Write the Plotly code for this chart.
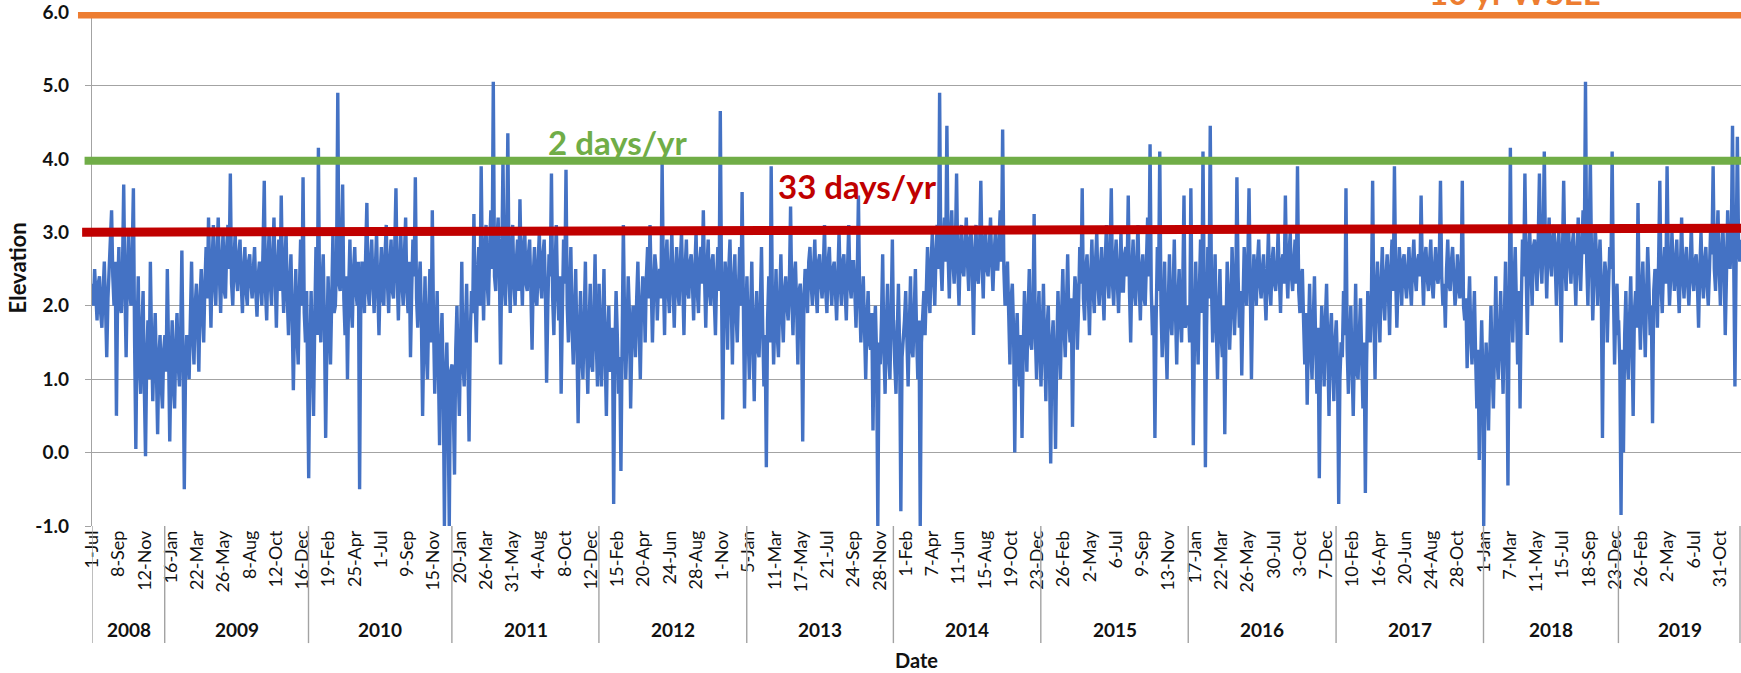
import numpy as np
import plotly.graph_objects as go

# ---------------- data ----------------
# Elevation, one value every `sample_step` categories (days), listed per year
sample_step = 3
y2008 = [2.3, 2.0, 2.5, 2.2, 1.8, 2.3, 2.4, 1.9, 1.7, 2.2, 2.6, 2.0, 1.3, 2.1, 2.5, 2.9, 3.3, 2.4, 2.0, 2.6,
         0.5, 2.2, 2.8, 2.0, 1.9, 2.5, 3.65, 2.2, 1.3, 2.4, 3.0, 2.2, 2.0, 2.7, 3.6, 1.5, 0.05, 1.6, 2.4, 1.2,
         0.8, 1.7, 2.2, 0.9, -0.05, 1.3, 1.8, 1.0, 2.6, 1.5, 0.7, 1.4, 1.9, 1.1, 0.25, 1.3, 1.6, 0.9, 0.6, 1.4]
y2009 = [1.6, 1.1, 2.5, 1.4, 0.15, 1.2, 1.8, 0.9, 0.6, 1.5, 1.9, 1.2, 0.9, 1.6, 2.75, 1.3, -0.5, 1.1, 1.6, 1.3,
         1.0, 1.8, 2.6, 1.6, 1.2, 2.0, 2.3, 1.7, 1.1, 2.1, 2.5, 1.9, 1.5, 2.3, 2.8, 2.1, 3.2, 2.4, 1.7, 2.6,
         3.1, 2.3, 2.0, 2.7, 3.2, 2.4, 1.9, 2.6, 3.0, 2.2, 2.1, 2.8, 3.1, 2.5, 3.8, 2.3, 2.0, 2.6, 3.0, 2.4,
         2.2, 2.7, 2.9, 2.3, 1.9, 2.5, 2.8, 2.2, 2.0, 2.6, 2.7, 2.3, 2.1, 2.5, 2.8, 2.2, 1.85, 2.4, 2.6, 2.3,
         2.0, 2.8, 3.7, 2.2, 1.8, 2.6, 3.0, 2.3, 2.0, 2.7, 3.2, 2.4, 1.7, 2.5, 2.9, 2.2, 3.5, 2.4, 1.9, 2.6,
         3.0, 2.1, 1.6, 2.3, 2.7, 1.9, 0.85, 1.8, 2.5, 1.6, 1.2, 2.2, 2.9, 2.0, 3.75, 1.9, 1.5, 2.2]
y2010 = [-0.35, 1.4, 2.2, 1.3, 0.5, 1.8, 2.8, 1.6, 4.15, 2.0, 1.5, 2.3, 2.7, 1.7, 0.2, 1.5, 2.4, 1.8, 1.2, 2.1,
         3.0, 1.9, 2.0, 2.6, 4.9, 2.3, 2.2, 2.8, 3.65, 2.1, 1.6, 2.4, 1.0, 2.2, 2.9, 2.0, 1.7, 2.5, 2.8, 2.2,
         2.0, 2.6, -0.5, 2.1, 2.6, 2.3, 1.9, 2.7, 3.4, 2.2, 2.0, 2.6, 2.9, 2.3, 1.9, 2.5, 3.0, 2.2, 1.6, 2.4,
         2.8, 2.1, 2.0, 2.7, 3.1, 2.3, 1.9, 2.6, 2.9, 2.2, 2.1, 2.8, 3.6, 2.4, 1.8, 2.5, 3.0, 2.3, 2.0, 2.7,
         3.2, 2.2, 1.9, 2.6, 1.3, 2.2, 2.9, 2.4, 3.75, 2.1, 1.7, 2.3, 2.6, 1.8, 0.5, 1.6, 2.4, 1.4, 1.0, 1.9,
         2.5, 1.5, 3.3, 1.8, 0.8, 1.5, 2.2, 1.2, 0.1, 1.4, 1.9, 1.0, -1.0, 0.9, 1.5, 0.6, -1.0, 1.1]
y2011 = [1.2, 0.6, -0.3, 1.4, 2.0, 1.1, 0.5, 1.5, 2.6, 1.2, 0.9, 1.7, 2.3, 1.3, 0.15, 1.6, 2.2, 1.9, 3.25, 2.1,
         1.5, 2.4, 2.8, 2.0, 3.9, 2.5, 1.8, 2.7, 3.1, 2.3, 2.0, 2.8, 3.3, 2.5, 5.05, 2.4, 2.2, 2.9, 3.2, 2.5,
         1.2, 2.6, 4.0, 2.3, 2.0, 2.8, 4.35, 2.4, 1.9, 2.7, 3.1, 2.3, 2.0, 2.6, 2.9, 2.2, 3.45, 2.5, 2.0, 2.8,
         3.0, 2.3, 2.2, 2.7, 2.9, 2.2, 1.4, 2.4, 2.8, 2.1, 2.0, 2.6, 3.0, 2.3, 2.1, 2.7, 2.9, 2.2, 0.95, 2.0,
         2.7, 2.4, 3.8, 2.1, 1.6, 2.5, 3.1, 2.2, 1.8, 2.4, 0.8, 1.9, 2.9, 2.3, 3.85, 2.0, 1.5, 2.2, 2.8, 1.7,
         1.2, 1.9, 2.5, 1.5, 0.4, 1.6, 2.2, 1.3, 1.0, 1.8, 2.6, 1.4, 0.8, 1.7, 2.3, 1.2, 1.1, 1.9, 2.7, 1.5,
         0.9, 1.6]
y2012 = [2.3, 1.5, 0.9, 1.8, 2.5, 1.3, 0.5, 1.6, 2.0, 1.1, 1.2, 1.7, -0.7, 1.4, 2.2, 1.6, 0.8, 1.3, -0.25, 1.5,
         3.1, 1.8, 1.0, 1.6, 2.4, 1.9, 0.6, 1.5, 2.0, 1.8, 1.3, 2.1, 2.6, 1.7, 1.0, 2.0, 2.4, 2.2, 1.5, 2.4,
         2.8, 2.1, 3.1, 2.3, 1.5, 2.2, 2.7, 2.5, 1.8, 2.3, 2.5, 2.1, 3.95, 2.4, 1.6, 2.6, 2.9, 2.2, 1.9, 2.5,
         3.0, 2.3, 1.7, 2.4, 2.8, 2.2, 2.0, 2.6, 3.0, 2.3, 1.6, 2.5, 2.9, 2.2, 2.1, 2.6, 2.7, 2.3, 1.8, 2.5,
         3.0, 2.2, 1.9, 2.6, 2.8, 2.3, 3.3, 2.4, 1.7, 2.5, 2.9, 2.2, 2.0, 2.6, 2.7, 2.1, 1.6, 2.4, 2.8, 2.2,
         4.65, 2.3, 0.45, 2.0, 2.6, 2.2, 1.4, 2.5, 2.9, 2.1, 1.2, 2.3, 2.7, 1.9, 1.5, 2.2, 2.8, 2.0, 3.55, 2.1,
         0.6, 1.8]
y2013 = [2.4, 1.6, 1.0, 1.9, 2.6, 1.5, 0.7, 1.8, 2.2, 1.4, 1.3, 2.0, 2.8, 1.7, 0.9, 1.6, -0.2, 1.8, 2.4, 1.5,
         3.9, 2.0, 1.2, 1.8, 2.5, 1.6, 1.3, 2.1, 2.7, 1.9, 1.5, 2.2, 2.4, 2.0, 1.8, 2.3, 3.35, 2.1, 1.6, 2.4,
         2.6, 2.0, 1.2, 2.2, 2.3, 1.9, 0.15, 2.1, 2.5, 2.3, 1.9, 2.6, 2.8, 2.3, 2.0, 2.5, 2.9, 2.2, 1.9, 2.6,
         2.7, 2.3, 2.1, 2.5, 3.1, 2.2, 1.9, 2.6, 2.8, 2.3, 2.0, 2.5, 2.6, 2.2, 1.8, 2.4, 3.0, 2.3, 2.0, 2.6,
         2.7, 2.2, 1.8, 2.5, 3.1, 2.3, 2.1, 2.6, 2.6, 2.2, 1.7, 2.4, 3.5, 2.1, 1.5, 2.0, 2.4, 1.7, 1.0, 1.8,
         2.2, 1.5, 1.4, 1.9, 0.3, 1.6, 2.0, 1.3, -1.0, 1.5, 1.2, 1.8, 2.7, 1.4, 0.8, 1.7, 2.3, 1.3, 1.0, 1.9,
         2.9, 1.6]
y2014 = [1.8, 1.2, 0.8, 1.6, 2.3, 1.4, -0.8, 1.3, 1.5, 1.8, 2.2, 1.5, 0.9, 1.7, 2.4, 1.4, 1.3, 1.9, 2.5, 1.6,
         1.0, 1.8, -1.0, 1.5, 2.0, 2.2, 1.6, 2.4, 2.8, 2.2, 1.9, 2.6, 3.0, 2.4, 2.0, 2.7, 3.1, 2.5, 4.9, 2.6,
         2.2, 2.9, 3.2, 2.6, 4.45, 2.7, 2.1, 2.9, 3.3, 2.6, 2.3, 2.8, 3.8, 2.5, 2.0, 2.7, 3.1, 2.5, 2.4, 2.8,
         3.2, 2.6, 2.2, 2.9, 3.0, 2.5, 1.6, 2.7, 3.1, 2.4, 2.3, 2.8, 3.7, 2.6, 2.1, 2.9, 3.0, 2.5, 2.4, 2.8,
         3.2, 2.6, 2.2, 2.7, 3.0, 2.5, 2.5, 2.9, 3.3, 2.6, 4.4, 2.5, 2.0, 2.3, 2.6, 1.9, 1.2, 2.1, 2.3, 1.7,
         0.0, 1.5, 1.9, 1.2, 0.9, 1.6, 0.2, 1.4, 2.2, 1.7, 1.1, 1.9, 2.5, 1.5, 1.4, 2.0, 3.25, 1.6, 1.0, 1.8,
         2.2, 1.3]
y2015 = [0.9, 1.6, 2.3, 1.4, 0.7, 1.7, 2.0, 1.2, -0.15, 1.5, 1.8, 1.1, 0.05, 1.4, 2.2, 1.6, 1.0, 1.9, 2.5, 1.7,
         1.3, 2.0, 2.7, 1.8, 1.5, 2.1, 0.35, 1.9, 2.4, 2.2, 1.4, 2.0, 2.8, 2.3, 3.6, 2.1, 1.8, 2.5, 2.7, 2.2,
         1.6, 2.4, 2.9, 2.2, 1.9, 2.6, 3.0, 2.3, 2.0, 2.5, 2.8, 2.2, 1.8, 2.6, 3.1, 2.4, 2.1, 2.7, 3.6, 2.3,
         2.0, 2.6, 2.9, 2.3, 1.9, 2.5, 3.0, 2.2, 2.2, 2.7, 2.8, 2.4, 3.5, 2.2, 1.5, 2.5, 2.9, 2.2, 2.0, 2.6,
         3.1, 2.3, 1.8, 2.5, 2.7, 2.1, 2.0, 2.6, 3.2, 2.4, 4.2, 2.2, 1.6, 2.0, 0.2, 1.8, 2.8, 2.2, 4.1, 2.0,
         1.3, 1.9, 2.6, 1.6, 1.0, 2.0, 2.7, 1.8, 1.6, 2.2, 2.9, 1.9, 1.2, 2.1, 2.5, 1.8, 1.5, 2.3, 3.5, 1.7]
y2016 = [2.0, 1.5, 3.6, 1.9, 0.1, 1.6, 2.6, 1.8, 1.2, 2.2, 2.9, 1.9, 4.1, 2.2, -0.2, 1.7, 2.8, 2.1, 4.45, 2.3,
         1.5, 2.0, 2.7, 1.7, 1.0, 1.9, 2.5, 1.6, 1.3, 2.0, 0.25, 1.7, 2.6, 2.1, 1.4, 1.9, 2.8, 2.3, 1.6, 2.1,
         3.75, 2.4, 1.7, 2.2, 1.05, 2.0, 2.8, 2.4, 2.0, 2.6, 3.6, 2.3, 1.0, 2.1, 2.7, 2.4, 2.0, 2.6, 2.9, 2.3,
         2.1, 2.5, 2.7, 2.2, 1.8, 2.4, 3.0, 2.3, 2.0, 2.6, 2.8, 2.3, 2.2, 2.5, 3.0, 2.4, 1.9, 2.6, 2.7, 2.3,
         3.5, 2.5, 2.1, 2.7, 3.0, 2.4, 2.2, 2.6, 2.9, 2.3, 3.9, 2.2, 1.9, 2.4, 2.5, 1.8, 1.2, 1.9, 0.65, 1.6,
         2.3, 1.4, 1.0, 1.8, 2.4, 1.5, 0.8, 1.7, -0.35, 1.3, 2.0, 1.5, 0.9, 1.8, 2.3, 1.4, 0.5, 1.6, 1.9, 1.2,
         0.7, 1.5]
y2017 = [1.8, 1.2, -0.7, 1.0, 1.5, 1.3, 2.2, 1.6, 3.6, 1.4, 0.8, 1.5, 2.0, 1.2, 0.5, 1.4, 2.3, 1.1, 1.0, 1.6,
         2.1, 1.3, 0.6, 1.5, -0.55, 1.2, 2.2, 1.8, 1.5, 2.1, 3.7, 1.9, 1.0, 2.2, 2.6, 2.0, 1.5, 2.3, 2.8, 2.1,
         1.8, 2.4, 2.7, 2.2, 1.6, 2.5, 2.9, 2.2, 3.9, 2.4, 1.7, 2.3, 2.8, 2.5, 2.0, 2.6, 2.7, 2.3, 2.1, 2.5,
         2.8, 2.3, 2.0, 2.6, 2.9, 2.4, 2.2, 2.6, 2.7, 2.4, 3.5, 2.5, 2.0, 2.6, 2.8, 2.4, 2.2, 2.6, 2.9, 2.3,
         2.1, 2.5, 2.8, 2.4, 2.3, 2.6, 3.7, 2.4, 2.0, 2.3, 1.7, 2.5, 2.9, 2.3, 2.2, 2.6, 2.8, 2.4, 2.0, 2.2,
         2.7, 2.4, 2.1, 2.3, 3.7, 2.0, 1.8, 2.1, 1.15, 1.9, 2.4, 1.6, 1.2, 1.7, 2.2, 1.3, 0.6, 1.4, -0.1, 1.1,
         1.8, 1.0]
y2018 = [-1.0, 0.8, 1.5, 0.9, 0.3, 1.3, 2.0, 1.1, 0.6, 1.5, 2.4, 1.3, 1.0, 1.6, 2.2, 1.4, 0.8, 1.8, 2.6, 1.6,
         -0.45, 1.9, 4.15, 2.1, 1.5, 2.3, 2.8, 2.0, 1.2, 2.2, 0.6, 2.0, 2.9, 2.4, 3.8, 2.5, 1.6, 2.7, 3.0, 2.5,
         2.0, 2.8, 2.9, 2.6, 2.2, 2.9, 3.8, 2.6, 2.3, 2.9, 4.1, 2.7, 2.1, 2.8, 3.2, 2.6, 2.4, 2.9, 3.1, 2.6,
         2.0, 2.8, 3.0, 2.5, 1.5, 2.7, 3.7, 2.6, 2.2, 2.9, 3.1, 2.6, 2.3, 2.8, 3.0, 2.5, 2.0, 2.7, 3.2, 2.6,
         2.2, 2.8, 3.3, 2.7, 5.05, 2.6, 2.0, 2.9, 4.0, 2.6, 1.8, 2.4, 3.1, 2.7, 2.0, 2.5, 2.9, 2.3, 0.2, 2.1,
         2.6, 2.4, 1.5, 2.2, 2.8, 2.5, 4.1, 2.3, 1.2, 2.0, 2.3, 1.6]
y2019 = [1.8, 1.2, -0.85, 1.4, 0.0, 1.6, 2.2, 1.3, 1.0, 1.8, 2.4, 1.5, 0.5, 1.9, 2.2, 1.7, 3.4, 2.0, 1.4, 2.2,
         2.6, 1.9, 1.3, 2.1, 2.8, 2.3, 1.6, 2.0, 0.4, 2.2, 2.5, 2.4, 1.7, 2.6, 3.7, 2.3, 1.9, 2.5, 2.8, 2.3,
         3.9, 2.6, 2.0, 2.4, 3.0, 2.6, 2.2, 2.5, 2.9, 2.3, 1.9, 2.5, 3.2, 2.4, 2.1, 2.6, 2.8, 2.3, 2.0, 2.5,
         3.1, 2.4, 2.2, 2.6, 2.7, 2.3, 1.7, 2.5, 3.0, 2.4, 2.1, 2.6, 2.8, 2.3, 2.0, 2.5, 3.1, 2.7, 3.9, 2.5,
         2.2, 2.8, 3.3, 2.5, 2.0, 2.7, 3.1, 2.6, 1.6, 2.4, 3.3, 2.8, 2.5, 2.9, 4.45, 2.6, 0.9, 2.7, 4.3, 2.8,
         2.6, 2.9]
year_values = [y2008, y2009, y2010, y2011, y2012, y2013, y2014, y2015, y2016, y2017, y2018, y2019]

# threshold lines
wsel_10yr = 5.973
days2_level = 3.975
days33_level = [3.0, 3.056]

# category axis: labels every 65 categories, years start at these category indices
tick_step = 65
tick_labels = ["1-Jul", "8-Sep", "12-Nov", "16-Jan", "22-Mar", "26-May", "8-Aug", "12-Oct", "16-Dec",
               "19-Feb", "25-Apr", "1-Jul", "9-Sep", "15-Nov", "20-Jan", "26-Mar", "31-May", "4-Aug",
               "8-Oct", "12-Dec", "15-Feb", "20-Apr", "24-Jun", "28-Aug", "1-Nov", "5-Jan", "11-Mar",
               "17-May", "21-Jul", "24-Sep", "28-Nov", "1-Feb", "7-Apr", "11-Jun", "15-Aug", "19-Oct",
               "23-Dec", "26-Feb", "2-May", "6-Jul", "9-Sep", "13-Nov", "17-Jan", "22-Mar", "26-May",
               "30-Jul", "3-Oct", "7-Dec", "10-Feb", "16-Apr", "20-Jun", "24-Aug", "28-Oct", "1-Jan",
               "7-Mar", "11-May", "15-Jul", "18-Sep", "23-Dec", "26-Feb", "2-May", "6-Jul", "31-Oct"]
years = ["2008", "2009", "2010", "2011", "2012", "2013", "2014", "2015", "2016", "2017", "2018", "2019"]
year_start = [0, 180, 536, 891, 1255, 1621, 1984, 2349, 2714, 3080, 3445, 3779]
x_end = 4082

# ---------------- figure ----------------
xs, ys_ = [], []
for start, vals in zip(year_start, year_values):
    xs.extend(start + sample_step * np.arange(len(vals)))
    ys_.extend(vals)

FONT = "Lato"
GRID = "#a3a3a3"
TXT = "#111111"

fig = go.Figure()
fig.add_trace(go.Scatter(x=xs, y=ys_, mode="lines",
                         line=dict(color="#4472C4", width=3.4), hoverinfo="skip",
                         showlegend=False))

shapes = []
# threshold lines (drawn lines, slightly extending left of the axis like the original)
shapes.append(dict(type="line", xref="paper", yref="y", x0=-0.0085, x1=1.0,
                   y0=wsel_10yr, y1=wsel_10yr, line=dict(color="#ED7D31", width=9)))
shapes.append(dict(type="line", xref="paper", yref="y", x0=-0.0045, x1=1.0,
                   y0=days2_level, y1=days2_level, line=dict(color="#70AD47", width=8)))
shapes.append(dict(type="line", xref="paper", yref="y", x0=-0.006, x1=1.0,
                   y0=days33_level[0], y1=days33_level[1], line=dict(color="#C00000", width=9)))

# year separators on the multi-level category axis
sep_bottom = -0.2278
for ys in year_start:
    shapes.append(dict(type="line", xref="x", yref="paper", x0=ys - 0.5, x1=ys - 0.5,
                       y0=0, y1=sep_bottom, line=dict(color=GRID, width=1.4)))
shapes.append(dict(type="line", xref="paper", yref="paper", x0=0.9994, x1=0.9994,
                   y0=0, y1=sep_bottom, line=dict(color=GRID, width=1.4)))

annotations = []
year_ends = year_start[1:] + [x_end]
for yl, a, b in zip(years, year_start, year_ends):
    annotations.append(dict(x=(a + b) / 2.0, y=-0.2015, xref="x", yref="paper", text=yl,
                            showarrow=False, xanchor="center", yanchor="middle",
                            font=dict(family=FONT, size=19, color=TXT, weight="bold")))

annotations += [
    dict(x=0.2753, y=0.7475, xref="paper", yref="paper", text="2 days/yr", showarrow=False,
         xanchor="left", yanchor="middle",
         font=dict(family=FONT, size=33, color="#70AD47", weight="bold")),
    dict(x=0.4149, y=0.662, xref="paper", yref="paper", text="33 days/yr", showarrow=False,
         xanchor="left", yanchor="middle",
         font=dict(family=FONT, size=33, color="#C00000", weight="bold")),
    dict(x=0.8629, y=1.038, xref="paper", yref="paper", text="10 yr WSEL", showarrow=False,
         xanchor="center", yanchor="middle",
         font=dict(family=FONT, size=33, color="#ED7D31", weight="bold")),
    dict(x=-0.0446, y=0.502, xref="paper", yref="paper", text="Elevation", showarrow=False,
         textangle=-90, xanchor="center", yanchor="middle",
         font=dict(family=FONT, size=22, color=TXT, weight="bold")),
    dict(x=0.5003, y=-0.2607, xref="paper", yref="paper", text="Date", showarrow=False,
         xanchor="center", yanchor="middle",
         font=dict(family=FONT, size=20, color=TXT, weight="bold")),
]

tickvals = [i * tick_step for i in range(len(tick_labels))]

fig.update_layout(
    width=1741, height=673,
    margin=dict(l=92, r=0, t=12, b=147, pad=0),
    paper_bgcolor="white", plot_bgcolor="white",
    shapes=shapes, annotations=annotations,
    xaxis=dict(range=[-0.5, x_end], tickmode="array", tickvals=tickvals, ticktext=tick_labels,
               tickangle=-90, ticks="", showgrid=False, zeroline=False,
               showline=False,
               tickfont=dict(family=FONT, size=18, color=TXT)),
    yaxis=dict(range=[-1, 6], tickmode="array", tickvals=[-1, 0, 1, 2, 3, 4, 5, 6],
               ticktext=["-1.0", "0.0", "1.0", "2.0", "3.0", "4.0", "5.0", "6.0"],
               ticks="outside", ticklen=6, tickcolor=GRID, tickwidth=1.4,
               showgrid=True, gridcolor=GRID, gridwidth=1.4, zeroline=False,
               showline=True, linecolor=GRID, linewidth=1.4,
               ticklabelstandoff=12, ticklabeloverflow="allow",
               tickfont=dict(family=FONT, size=19, color=TXT, weight="bold")),
)

fig.write_html("out.html", config={"displayModeBar": False},
               post_script="document.body.style.margin='0px';")
